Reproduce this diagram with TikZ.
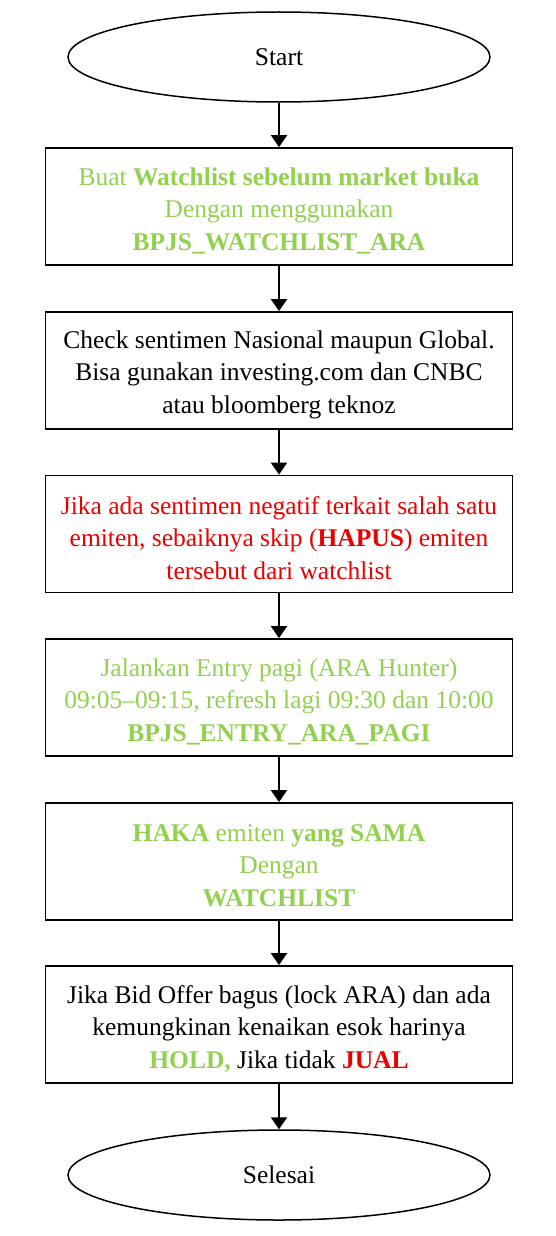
\documentclass[tikz,border=0pt]{standalone}
\usepackage{fontspec}
\setmainfont{Liberation Serif}
\usetikzlibrary{shapes.geometric,arrows.meta}
\definecolor{lgreen}{RGB}{146,208,80}
\definecolor{bred}{RGB}{235,0,0}
\tikzset{
  x=1pt,y=1pt,
  stepbox/.style={draw=black,line width=1.8pt,rectangle,minimum width=467pt,minimum height=117pt,inner sep=0pt},
  steptext/.style={inner sep=0pt,align=center,font=\fontsize{25.5}{32.5}\selectfont,yshift=-4pt},
  term/.style={draw=black,line width=1.5pt,ellipse,minimum width=422pt,minimum height=90pt,inner sep=0pt,font=\fontsize{25.5}{32.5}\selectfont},
  flow/.style={line width=2pt,-{Triangle[width=16pt,length=12pt]}}
}
\begin{document}
\begin{tikzpicture}
\useasboundingbox (0,0) rectangle (555,-1236);
\node[term] (start) at (279,-57) {Start};
\node[stepbox] (b1) at (279,-206.5) {};
\node[stepbox] (b2) at (279,-370.5) {};
\node[stepbox] (b3) at (279,-534) {};
\node[stepbox] (b4) at (279,-697.5) {};
\node[stepbox] (b5) at (279,-861.5) {};
\node[stepbox] (b6) at (279,-1024.5) {};
\node[term] (end) at (279,-1175) {Selesai};
\node[steptext,text=lgreen] (t1) at (b1.center) {Buat \textbf{Watchlist sebelum market buka}\\Dengan menggunakan\\\textbf{BPJS\_WATCHLIST\_ARA}};
\node[steptext] (t2) at (b2.center) {Check sentimen Nasional maupun Global.\\Bisa gunakan investing.com dan CNBC\\atau bloomberg teknoz};
\node[steptext,text=bred] (t3) at (b3.center) {Jika ada sentimen negatif terkait salah satu\\emiten, sebaiknya skip (\textbf{HAPUS}) emiten\\tersebut dari watchlist};
\node[steptext,text=lgreen] (t4) at (b4.center) {Jalankan Entry pagi (ARA Hunter)\\09:05--09:15, refresh lagi 09:30 dan 10:00\\\textbf{BPJS\_ENTRY\_ARA\_PAGI}};
\node[steptext,text=lgreen] (t5) at (b5.center) {\textbf{HAKA} emiten \textbf{yang SAMA}\\Dengan\\\textbf{WATCHLIST}};
\node[steptext] (t6) at (b6.center) {Jika Bid Offer bagus (lock ARA) dan ada\\kemungkinan kenaikan esok harinya\\\textcolor{lgreen}{\textbf{HOLD,}} Jika tidak \textcolor{bred}{\textbf{JUAL}}};
\draw[flow] (start) -- (b1);
\draw[flow] (b1) -- (b2);
\draw[flow] (b2) -- (b3);
\draw[flow] (b3) -- (b4);
\draw[flow] (b4) -- (b5);
\draw[flow] (b5) -- (b6);
\draw[flow] (b6) -- (end);
\end{tikzpicture}
\end{document}
